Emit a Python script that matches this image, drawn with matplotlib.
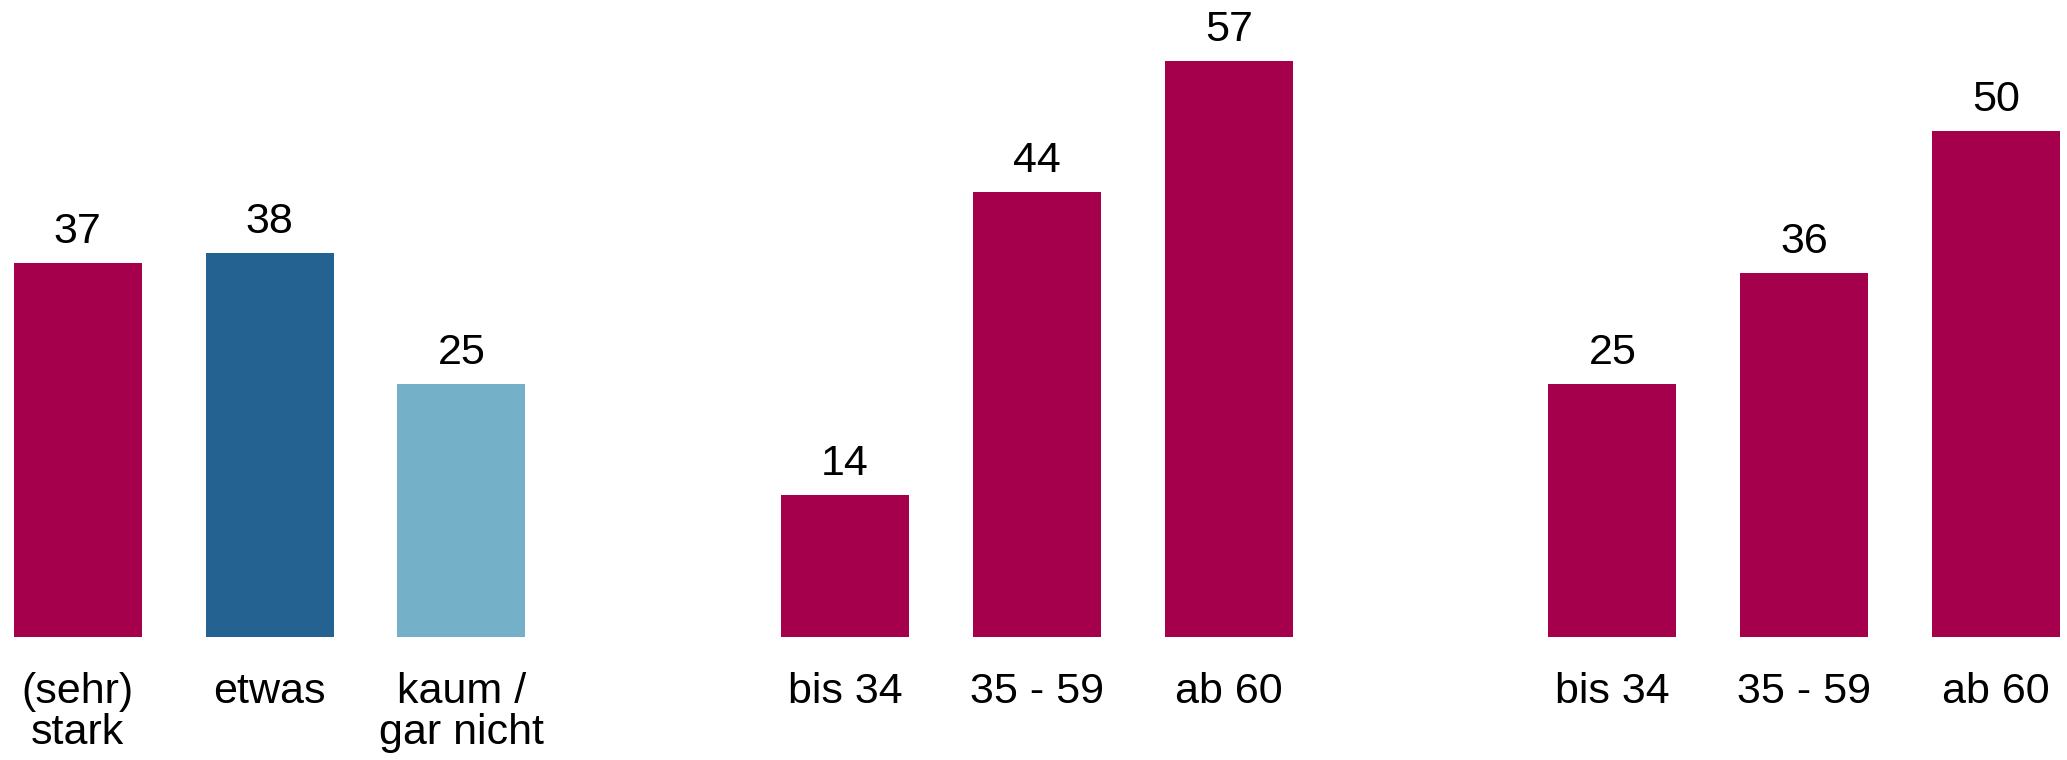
import matplotlib.pyplot as plt

plt.rcParams['font.family'] = ['Liberation Sans', 'DejaVu Sans']

# Bar positions leave gaps between the three groups
labels = ['(sehr)\nstark', 'etwas', 'kaum /\ngar nicht',
          'bis 34', '35 - 59', 'ab 60',
          'bis 34', '35 - 59', 'ab 60']
values = [37, 38, 25, 14, 44, 57, 25, 36, 50]
positions = [0, 1, 2, 4, 5, 6, 8, 9, 10]

crimson = '#A5004B'
colors = [crimson, '#246291', '#74B1C9',
          crimson, crimson, crimson,
          crimson, crimson, crimson]

fig = plt.figure(figsize=(20.67, 7.6), dpi=100)
ax = fig.add_axes([0, 0.162, 1, 0.838])

bars = ax.bar(positions, values, width=0.667, color=colors)

# Value above each bar
for x, v in zip(positions, values):
    ax.annotate(f'{v}', (x, v), xytext=(0, 8), textcoords='offset points',
                ha='center', va='bottom', fontsize=31)

ax.set_xlim(-0.405, 10.37)
ax.set_ylim(0, 63)
ax.set_xticks(positions)
ax.set_xticklabels(labels, fontsize=31, linespacing=1.06, va='top')
ax.tick_params(axis='x', length=0, pad=25)
ax.set_yticks([])
for s in ax.spines.values():
    s.set_visible(False)

fig.savefig('out.png', dpi=100)
